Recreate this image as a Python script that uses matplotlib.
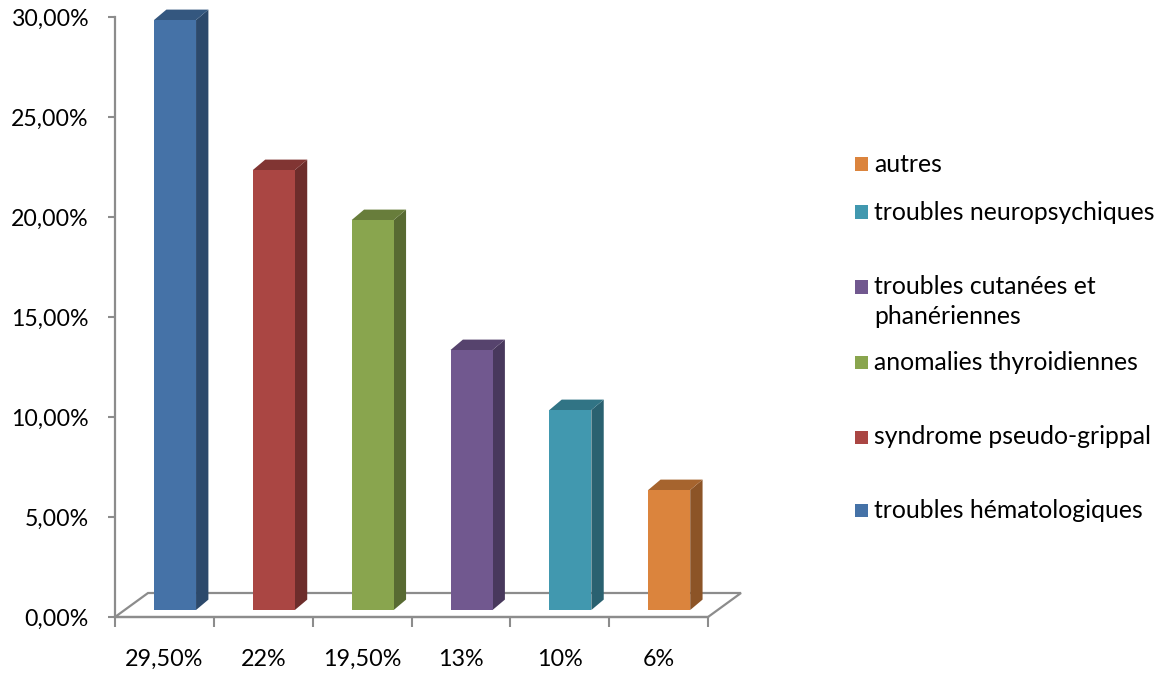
import matplotlib
matplotlib.use("Agg")
import matplotlib.pyplot as plt
from matplotlib.patches import Polygon, Rectangle
import matplotlib.colors as mcolors

# Data
categories = [
    "troubles hématologiques",
    "syndrome pseudo-grippal",
    "anomalies thyroidiennes",
    "troubles cutanées et\nphanériennes",
    "troubles neuropsychiques",
    "autres",
]
values = [29.5, 22, 19.5, 13, 10, 6]
x_labels = ["29,50%", "22%", "19,50%", "13%", "10%", "6%"]
y_ticks = [0, 5, 10, 15, 20, 25, 30]
colors = ["#4572A7", "#AA4643", "#89A54E", "#71588F", "#4198AF", "#DB843D"]

FONT = "Lato"
plt.rcParams["font.family"] = [FONT, "DejaVu Sans"]

W, H = 1163, 674
fig = plt.figure(figsize=(W / 100, H / 100), dpi=100)
ax = fig.add_axes([115 / W, (H - 617) / H, 593 / W, 600 / H])
ax.set_xlim(0, len(values))
ax.set_ylim(0, 30)

grey = "#8C8C8C"
for s in ("top", "right"):
    ax.spines[s].set_visible(False)
for s in ("left", "bottom"):
    ax.spines[s].set_color(grey)
    ax.spines[s].set_linewidth(1.6)

# y axis
ax.set_yticks(y_ticks)
ax.set_yticklabels([f"{v:.2f}%".replace(".", ",") for v in y_ticks])
ax.tick_params(axis="y", length=5, width=1.5, color=grey, pad=14,
               labelsize=16.7, labelcolor="black")

# x axis: boundary ticks, centred labels
n = len(values)
ax.set_xticks(range(n + 1))
ax.set_xticklabels([""] * (n + 1))
ax.set_xticks([i + 0.5 for i in range(n)], minor=True)
ax.set_xticklabels(x_labels, minor=True)
ax.tick_params(axis="x", which="major", length=7, width=1.5, color=grey)
ax.tick_params(axis="x", which="minor", length=0, pad=23,
               labelsize=16.8, labelcolor="black")

# floor (perspective parallelogram)
fdx, fdy = 0.334, 1.2
floor = Polygon([(0, 0), (fdx, fdy), (n + fdx, fdy), (n, 0)], closed=True,
                facecolor="white", edgecolor=grey, linewidth=1.6,
                clip_on=False, zorder=1)
ax.add_patch(floor)

# 3-D looking columns
def shade(c, f):
    r, g, b = mcolors.to_rgb(c)
    return (r * f, g * f, b * f)

off, w, base = 0.395, 0.425, 0.35
ddx, ddy = 0.125, 0.52
lefts = [i + off for i in range(n)]
bars = ax.bar(lefts, values, width=w, bottom=base, align="edge",
              color=colors, zorder=3, clip_on=False)
for L, v, c in zip(lefts, values, colors):
    top = base + v
    R = L + w
    side = Polygon([(R, base), (R + ddx, base + ddy), (R + ddx, top + ddy), (R, top)],
                   closed=True, facecolor=shade(c, 0.64), edgecolor="none",
                   clip_on=False, zorder=2.9)
    cap = Polygon([(L, top), (L + ddx, top + ddy), (R + ddx, top + ddy), (R, top)],
                  closed=True, facecolor=shade(c, 0.76), edgecolor="none",
                  clip_on=False, zorder=3.1)
    ax.add_patch(side)
    ax.add_patch(cap)

# legend (reverse order, top = last category)
leg_y = [510, 437, 362, 287, 212, 164]
line_gap = 30
for name, c, yc in zip(categories, colors, leg_y):
    fig.patches.append(Rectangle((855 / W, (H - yc - 6.5) / H), 13 / W, 13 / H,
                                 transform=fig.transFigure, facecolor=c,
                                 edgecolor="none"))
    for k, line in enumerate(name.split("\n")):
        fig.text(874 / W, (H - yc - k * line_gap) / H, line, ha="left",
                 va="center", fontsize=17.8, color="black")

fig.savefig("out.png", dpi=100)
